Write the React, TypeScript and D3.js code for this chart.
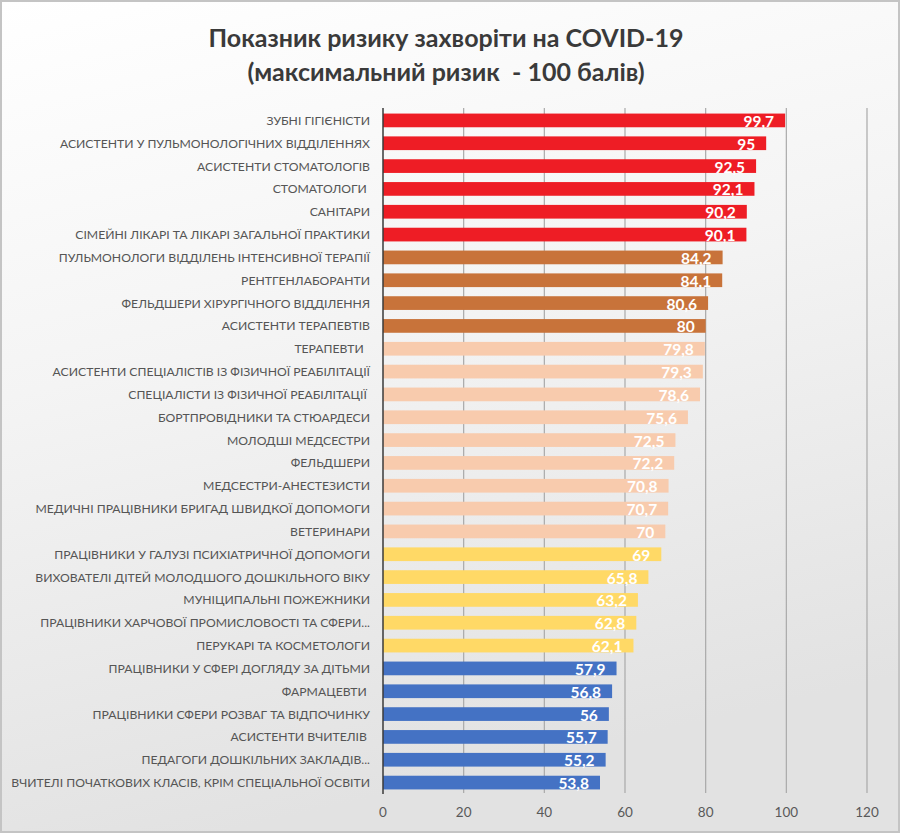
import React from "react";
import * as d3 from "d3";

const categories: string[] = [
  "ЗУБНІ ГІГІЄНІСТИ",
  "АСИСТЕНТИ У ПУЛЬМОНОЛОГІЧНИХ ВІДДІЛЕННЯХ",
  "АСИСТЕНТИ СТОМАТОЛОГІВ",
  "СТОМАТОЛОГИ ",
  "САНІТАРИ",
  "СІМЕЙНІ ЛІКАРІ ТА ЛІКАРІ ЗАГАЛЬНОЇ ПРАКТИКИ",
  "ПУЛЬМОНОЛОГИ ВІДДІЛЕНЬ ІНТЕНСИВНОЇ ТЕРАПІЇ",
  "РЕНТГЕНЛАБОРАНТИ",
  "ФЕЛЬДШЕРИ ХІРУРГІЧНОГО ВІДДІЛЕННЯ",
  "АСИСТЕНТИ ТЕРАПЕВТІВ",
  "ТЕРАПЕВТИ  ",
  "АСИСТЕНТИ СПЕЦІАЛІСТІВ ІЗ ФІЗИЧНОЇ РЕАБІЛІТАЦІЇ",
  "СПЕЦІАЛІСТИ ІЗ ФІЗИЧНОЇ РЕАБІЛІТАЦІЇ ",
  "БОРТПРОВІДНИКИ ТА СТЮАРДЕСИ",
  "МОЛОДШІ МЕДСЕСТРИ",
  "ФЕЛЬДШЕРИ",
  "МЕДСЕСТРИ-АНЕСТЕЗИСТИ",
  "МЕДИЧНІ ПРАЦІВНИКИ БРИГАД ШВИДКОЇ ДОПОМОГИ",
  "ВЕТЕРИНАРИ",
  "ПРАЦІВНИКИ У ГАЛУЗІ ПСИХІАТРИЧНОЇ ДОПОМОГИ",
  "ВИХОВАТЕЛІ ДІТЕЙ МОЛОДШОГО ДОШКІЛЬНОГО ВІКУ",
  "МУНІЦИПАЛЬНІ ПОЖЕЖНИКИ",
  "ПРАЦІВНИКИ ХАРЧОВОЇ ПРОМИСЛОВОСТІ ТА СФЕРИ...",
  "ПЕРУКАРІ ТА КОСМЕТОЛОГИ",
  "ПРАЦІВНИКИ У СФЕРІ ДОГЛЯДУ ЗА ДІТЬМИ",
  "ФАРМАЦЕВТИ ",
  "ПРАЦІВНИКИ СФЕРИ РОЗВАГ ТА ВІДПОЧИНКУ",
  "АСИСТЕНТИ ВЧИТЕЛІВ ",
  "ПЕДАГОГИ ДОШКІЛЬНИХ ЗАКЛАДІВ...",
  "ВЧИТЕЛІ ПОЧАТКОВИХ КЛАСІВ, КРІМ СПЕЦІАЛЬНОЇ ОСВІТИ",
];

const values: number[] = [
  99.7, 95, 92.5, 92.1, 90.2, 90.1, 84.2, 84.1, 80.6, 80, 79.8, 79.3, 78.6,
  75.6, 72.5, 72.2, 70.8, 70.7, 70, 69, 65.8, 63.2, 62.8, 62.1, 57.9, 56.8,
  56, 55.7, 55.2, 53.8,
];

// risk group of each bar (0 = highest)
const groups: number[] = [
  0, 0, 0, 0, 0, 0, 1, 1, 1, 1, 2, 2, 2, 2, 2, 2, 2, 2, 2, 3, 3, 3, 3, 3, 4,
  4, 4, 4, 4, 4,
];

const groupColors: string[] = ["#EE1D25", "#C8733A", "#F8CBAD", "#FFD966", "#4472C4"];

const xTicks: number[] = [0, 20, 40, 60, 80, 100, 120];

const titleLines: string[] = [
  "Показник ризику захворіти на COVID-19",
  "(максимальний ризик  - 100 балів)",
];

const W = 900;
const H = 833;
const FONT = "Lato, 'Open Sans', sans-serif";

export default function App() {
  const x = d3.scaleLinear().domain([0, 120]).range([383, 867]);
  const y = d3
    .scaleBand<string>()
    .domain(categories.map((_, i) => String(i)))
    .range([109, 794])
    .paddingInner(0.4)
    .paddingOuter(0.2);
  const bw = y.bandwidth();
  const fmt = (v: number) => String(v).replace(".", ",");

  return (
    <svg
      width={W}
      height={H}
      style={{ position: "absolute", left: 0, top: 0, display: "block" }}
      fontFamily={FONT}
    >
      <defs>
        <linearGradient id="bg" x1="0" y1="0" x2="0.25" y2="1">
          <stop offset="0" stopColor="#ffffff" />
          <stop offset="0.45" stopColor="#f4f4f4" />
          <stop offset="1" stopColor="#e2e2e2" />
        </linearGradient>
      </defs>
      <rect x={1} y={1} width={W - 2} height={H - 2} fill="url(#bg)" stroke="#c4c4c4" strokeWidth={2} />

      {titleLines.map((t, i) => (
        <text
          key={i}
          x={446}
          y={47 + i * 34}
          textAnchor="middle"
          fontSize={25}
          fontWeight={700}
          fill="#3a3a3a"
          style={{ whiteSpace: "pre" }}
        >
          {t}
        </text>
      ))}

      {/* gridlines */}
      {xTicks.map((t) =>
        t === 0 ? null : (
          <line key={t} x1={x(t)} x2={x(t)} y1={108} y2={793} stroke="#a9a9a9" strokeWidth={1.2} />
        )
      )}

      {/* bars */}
      {values.map((v, i) => (
        <rect
          key={i}
          x={x(0)}
          y={y(String(i))!}
          width={x(v) - x(0)}
          height={bw}
          fill={groupColors[groups[i]]}
        />
      ))}

      {/* value labels */}
      {values.map((v, i) => (
        <text
          key={i}
          x={x(v) - 11}
          y={y(String(i))! + bw / 2 + 6.5}
          textAnchor="end"
          fontSize={15.5}
          fontWeight={700}
          fill="#ffffff"
        >
          {fmt(v)}
        </text>
      ))}

      {/* category labels */}
      {categories.map((c, i) => (
        <text
          key={i}
          x={370}
          y={y(String(i))! + bw / 2 + 4.5}
          textAnchor="end"
          fontSize={12.2}
          fill="#555555"
          style={{ whiteSpace: "pre" }}
        >
          {c}
        </text>
      ))}

      {/* axis line */}
      <line x1={x(0)} x2={x(0)} y1={108} y2={794} stroke="#3a3a3a" strokeWidth={1.5} />

      {/* x tick labels */}
      {xTicks.map((t) => (
        <text key={t} x={x(t)} y={817} textAnchor="middle" fontSize={13.5} fill="#595959">
          {t}
        </text>
      ))}
    </svg>
  );
}
